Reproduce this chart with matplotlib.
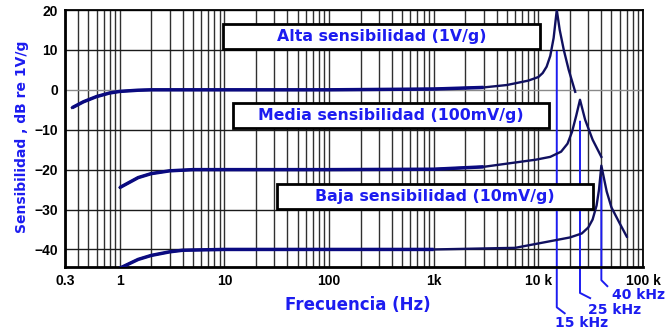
import numpy as np
import matplotlib.pyplot as plt
from matplotlib.patches import Rectangle
from matplotlib.ticker import FixedLocator, LogLocator, NullFormatter

# Respuesta en frecuencia de tres acelerometros (dB re 1V/g)
alta_freq = [0.35, 0.45, 0.6, 0.8, 1.0, 1.5, 2, 10, 100, 1000, 3000, 5000,
             8000, 10000, 11000, 12000, 13000, 14000, 15000, 16000, 17500,
             19500, 22500]
alta_db = [-4.5, -3.0, -1.7, -0.8, -0.4, -0.1, 0, 0, 0, 0.2, 0.6, 1.2,
           2.3, 3.2, 4.2, 5.8, 8.5, 13.0, 20.0, 15.0, 10.0, 5.0, -0.5]

media_freq = [1.0, 1.5, 2, 3, 5, 10, 100, 1000, 3000, 9500, 13000, 16500,
              19000, 21000, 23000, 25000, 28000, 33000, 40000]
media_db = [-24.5, -22.0, -21.0, -20.3, -20.0, -20.0, -20.0, -19.9, -19.3,
            -17.5, -16.8, -15.5, -13.5, -10.5, -6.5, -2.5, -7.5, -12.5, -16.8]

baja_freq = [1.0, 1.5, 2, 3, 4, 10, 100, 1000, 6000, 10000, 20000, 26000,
             30000, 33000, 36000, 38000, 40000, 45000, 50000, 60000, 70000]
baja_db = [-44.7, -42.5, -41.5, -40.6, -40.2, -40.0, -40.0, -40.0, -39.6,
           -38.5, -37.0, -36.0, -34.5, -32.5, -29.0, -25.0, -19.0, -25.5,
           -29.5, -33.5, -36.8]

x_ticks = [0.3, 1, 10, 100, 1000, 10000, 100000]
x_labels = ['0.3', '1', '10', '100', '1k', '10 k', '100 k']
y_ticks = [20, 10, 0, -10, -20, -30, -40]

box_texts = ['Alta sensibilidad (1V/g)', 'Media sensibilidad (100mV/g)',
             'Baja sensibilidad (10mV/g)']
res_freqs = [15000, 25000, 40000]
res_labels = ['15 kHz', '25 kHz', '40 kHz']

navy = '#0a0a80'
blue = '#1c1cf0'

fig = plt.figure(figsize=(6.67, 3.34), dpi=100)
ax = fig.add_axes([65 / 667, 67 / 334, 578 / 667, 257 / 334])
ax.set_xscale('log')
ax.set_xlim(0.3, 1e5)
ax.set_ylim(-44.4, 20)

ax.xaxis.set_major_locator(FixedLocator(x_ticks))
ax.xaxis.set_minor_locator(LogLocator(base=10, subs=np.arange(2, 10)))
ax.xaxis.set_minor_formatter(NullFormatter())
ax.set_xticks(x_ticks)
ax.set_xticklabels(x_labels)
ax.set_yticks(y_ticks)
ax.tick_params(which='both', length=0, pad=5, labelsize=10)
for lab in ax.get_xticklabels() + ax.get_yticklabels():
    lab.set_fontweight('bold')
    lab.set_family('Liberation Sans')

ax.grid(which='both', axis='x', color='#303030', lw=1.0)
ax.grid(which='major', axis='y', color='#1a1a1a', lw=1.0)
for gl, yv in zip(ax.get_ygridlines(), y_ticks):
    if yv == 0:
        gl.set_color('#8a8a8a')
ax.set_axisbelow(True)

for side in ['left', 'bottom']:
    ax.spines[side].set_linewidth(2.0)
for side in ['top', 'right']:
    ax.spines[side].set_linewidth(1.3)

# marcadores de resonancia, prolongados fuera del grafico
res_tops = [9.5, -8.0, -22.0]
res_bottoms = [-54.5, -50.9, -47.7]
res_kinks = [1.19, 1.25, 1.14]
res_drop = [1.5, 1.3, 1.5]
res_text_pos = [(25600, -58.5), (54000, -55.2), (90000, -51.4)]
for f, yt, yb, k, d, (tx, ty), lab in zip(res_freqs, res_tops, res_bottoms,
                                          res_kinks, res_drop, res_text_pos,
                                          res_labels):
    ax.plot([f, f, f * k], [yt, yb, yb - d], color=blue, lw=1.4,
            clip_on=False, zorder=2)
    ax.text(tx, ty, lab, color=blue, fontsize=10, fontweight='bold',
            ha='center', va='center', clip_on=False)

for fr, db in [(alta_freq, alta_db), (media_freq, media_db), (baja_freq, baja_db)]:
    fr = np.array(fr)
    db = np.array(db)
    ax.plot(fr, db, color='#101060', lw=1.7, zorder=3)
    flat = fr <= 3000
    ax.plot(fr[flat], db[flat], color=navy, lw=2.5, zorder=3,
            solid_capstyle='butt')

# recuadros con el nombre de cada curva
box_pos = [(0.274, 0.848), (0.290, 0.541), (0.366, 0.226)]
for (bx, by), txt in zip(box_pos, box_texts):
    ax.add_patch(Rectangle((bx, by), 0.548, 0.097, transform=ax.transAxes,
                           facecolor='white', edgecolor='black', lw=2,
                           zorder=4))
    ax.text(bx + 0.274, by + 0.048, txt, transform=ax.transAxes, color=blue,
            fontsize=11.3, fontweight='bold', ha='center', va='center', zorder=5)

fig.text(22 / 667, 1 - 137 / 334, 'Sensibilidad , dB re 1V/g', rotation=90,
         color=blue, fontsize=10, fontweight='bold', ha='center', va='center')
fig.text(358 / 667, 1 - 305 / 334, 'Frecuencia (Hz)', color=blue,
         fontsize=12, fontweight='bold', ha='center', va='center')

fig.savefig('out.png', dpi=100)
